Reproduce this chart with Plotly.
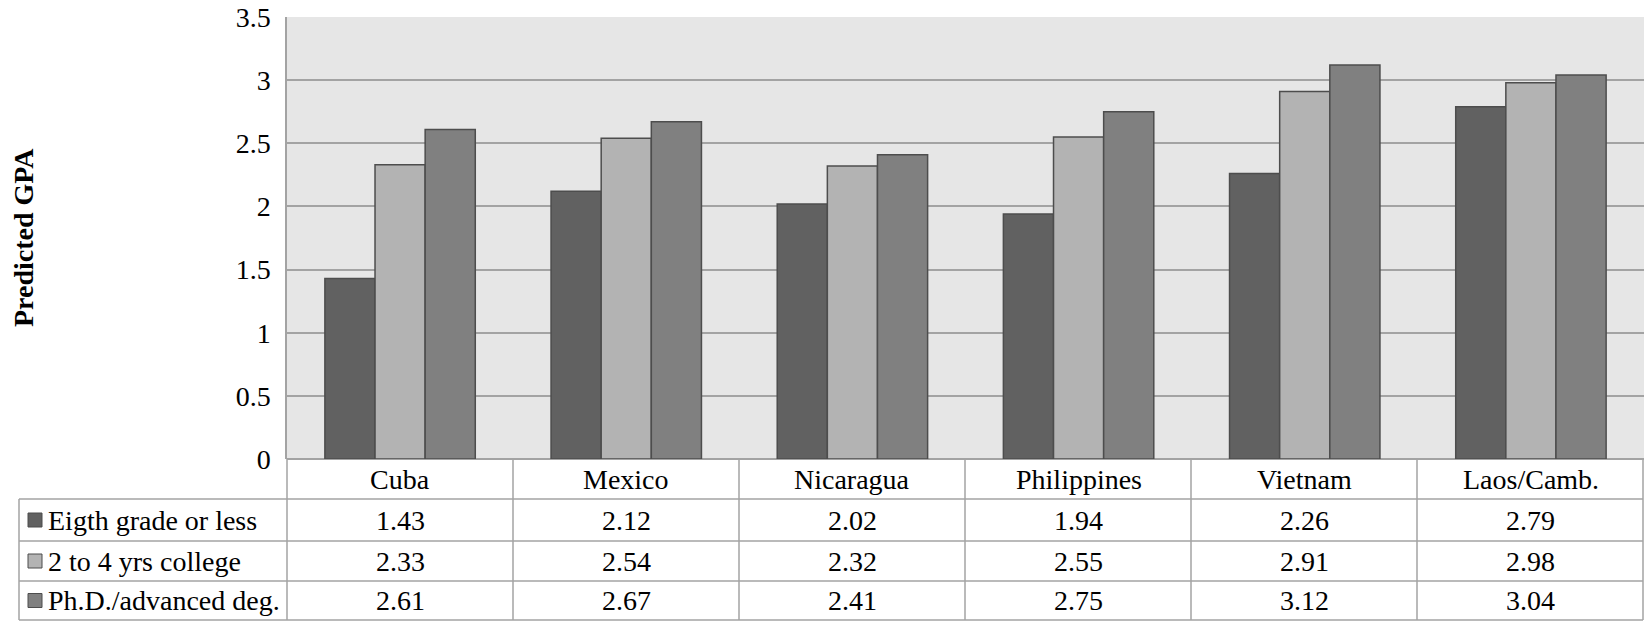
import plotly.graph_objects as go

categories = ["Cuba", "Mexico", "Nicaragua", "Philippines", "Vietnam", "Laos/Camb."]
series_names = ["Eigth grade or less", "2 to 4 yrs college", "Ph.D./advanced deg."]
eighth_grade = [1.43, 2.12, 2.02, 1.94, 2.26, 2.79]
college = [2.33, 2.54, 2.32, 2.55, 2.91, 2.98]
phd = [2.61, 2.67, 2.41, 2.75, 3.12, 3.04]
series_values = [eighth_grade, college, phd]
colors = ["#616161", "#b3b3b3", "#808080"]

W, H = 1645, 621
L, R, T, B = 287, 1, 17, 162
PW = W - L - R
PH = H - T - B
base_px = H - B  # pixel y of zero line

def fx(x):
    return (x - L) / PW

def fy(y):
    return (base_px - y) / PH

FONT = "Liberation Serif"
FS = 28
GRID = "#a3a3a3"

fig = go.Figure()
for name, vals, col in zip(series_names, series_values, colors):
    fig.add_trace(go.Bar(
        x=categories, y=vals, name=name,
        marker=dict(color=col, line=dict(color="#4d4d4d", width=1.5)),
        showlegend=False,
    ))

shapes = []
annotations = []

row_edges = [base_px, 499, 541, 581, 620]
left_edge = 19
right_edge = W - R - 1

def hline(y, x0, x1):
    shapes.append(dict(type="line", xref="paper", yref="paper",
                       x0=fx(x0), x1=fx(x1), y0=fy(y), y1=fy(y),
                       line=dict(color=GRID, width=1.5)))

def vline(x, y0, y1):
    shapes.append(dict(type="line", xref="paper", yref="paper",
                       x0=fx(x), x1=fx(x), y0=fy(y0), y1=fy(y1),
                       line=dict(color=GRID, width=1.5)))

for y in row_edges[1:]:
    hline(y, left_edge, right_edge)
vline(left_edge, row_edges[1], row_edges[-1])
n = len(categories)
for k in range(n + 1):
    xk = L + k * (right_edge - L) / n
    vline(xk, base_px, row_edges[-1])

# header labels
hdr_y = fy((row_edges[0] + row_edges[1]) / 2)
for c in categories:
    annotations.append(dict(x=c, xref="x", y=hdr_y, yref="paper", text=c,
                            showarrow=False, xanchor="center", yanchor="middle",
                            font=dict(family=FONT, size=FS, color="black")))

for r, (name, vals, col) in enumerate(zip(series_names, series_values, colors)):
    cy = (row_edges[r + 1] + row_edges[r + 2]) / 2
    shapes.append(dict(type="rect", xref="paper", yref="paper",
                       x0=fx(28), x1=fx(42), y0=fy(cy - 7), y1=fy(cy + 7),
                       fillcolor=col, line=dict(color="#4d4d4d", width=1)))
    annotations.append(dict(x=fx(46), xref="paper", y=fy(cy), yref="paper", text=name,
                            showarrow=False, xanchor="left", yanchor="middle",
                            font=dict(family=FONT, size=FS, color="black")))
    for c, v in zip(categories, vals):
        annotations.append(dict(x=c, xref="x", y=fy(cy), yref="paper", text=f"{v:.2f}",
                                showarrow=False, xanchor="center", yanchor="middle",
                                font=dict(family=FONT, size=FS, color="black")))

annotations.append(dict(x=fx(23), xref="paper", y=0.5, yref="paper", text="<b>Predicted GPA</b>",
                        textangle=-90, showarrow=False, xanchor="center", yanchor="middle",
                        font=dict(family=FONT, size=FS, color="black")))

fig.update_layout(
    width=W, height=H,
    margin=dict(l=L, r=R, t=T, b=B, pad=0),
    paper_bgcolor="white", plot_bgcolor="#e6e6e6",
    barmode="group", bargap=0.335, bargroupgap=0,
    shapes=shapes, annotations=annotations,
    font=dict(family=FONT, size=FS, color="black"),
    xaxis=dict(type="category", showticklabels=False, showgrid=False, zeroline=False,
               showline=False, range=[-0.5, n - 0.5]),
    yaxis=dict(range=[0, 3.5], dtick=0.5, tick0=0, showgrid=True, gridcolor=GRID, gridwidth=1.5,
               zeroline=True, zerolinecolor=GRID, zerolinewidth=1.5,
               showline=True, linecolor=GRID, linewidth=1.5,
               ticks="", ticklabelstandoff=9,
               tickfont=dict(family=FONT, size=FS, color="black")),
)

fig.write_html(
    "out.html",
    config={"displayModeBar": False},
    post_script="document.body.style.margin='0';document.body.style.overflow='hidden';",
)
